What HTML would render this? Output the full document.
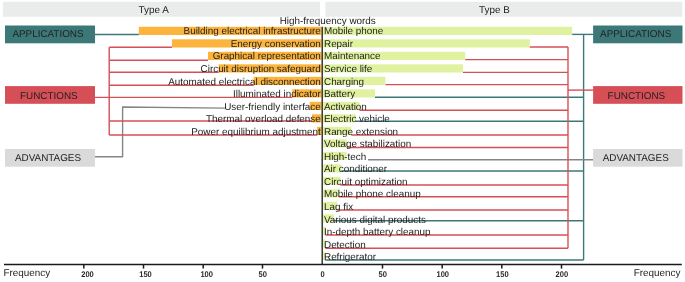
<!DOCTYPE html>
<html><head><meta charset="utf-8"><style>
html,body{margin:0;padding:0;background:#fff;overflow:hidden;}
svg{display:block;font-family:"Liberation Sans",sans-serif;text-rendering:geometricPrecision;}
svg{will-change:transform;}
</style></head><body>
<svg width="685" height="282" viewBox="0 0 685 282" font-family="Liberation Sans, sans-serif" font-size="9.9" fill="#222">
<rect width="685" height="282" fill="#fff"/>
<rect x="2.9" y="1.8" width="317.1" height="15" fill="#eaeceb"/>
<rect x="325.4" y="1.8" width="356.8" height="15" fill="#eaeceb"/>
<text x="138.6" y="12.9">Type A</text>
<text x="479" y="12.9">Type B</text>
<text x="279.7" y="23.7">High-frequency words</text>
<rect x="138.8" y="26.8" width="182.70" height="8.2" fill="#fdb43c"/>
<rect x="172" y="39.3" width="149.50" height="8.2" fill="#fdb43c"/>
<rect x="208" y="51.8" width="113.50" height="8.2" fill="#fdb43c"/>
<rect x="218.7" y="64.3" width="102.80" height="8.2" fill="#fdb43c"/>
<rect x="253.7" y="76.8" width="67.80" height="8.2" fill="#fdb43c"/>
<rect x="292.3" y="89.3" width="29.20" height="8.2" fill="#fdb43c"/>
<rect x="309.7" y="101.8" width="11.80" height="8.2" fill="#fdb43c"/>
<rect x="312" y="114.3" width="9.50" height="8.2" fill="#fdb43c"/>
<rect x="317.2" y="126.8" width="4.30" height="8.2" fill="#fdb43c"/>
<rect x="323.1" y="26.8" width="249.10" height="8.2" fill="#e0f2a0"/>
<rect x="323.1" y="39.3" width="206.70" height="8.2" fill="#e0f2a0"/>
<rect x="323.1" y="51.8" width="142.10" height="8.2" fill="#e0f2a0"/>
<rect x="323.1" y="64.3" width="139.90" height="8.2" fill="#e0f2a0"/>
<rect x="323.1" y="76.8" width="62.40" height="8.2" fill="#e0f2a0"/>
<rect x="323.1" y="89.3" width="51.90" height="8.2" fill="#e0f2a0"/>
<rect x="323.1" y="101.8" width="36.50" height="8.2" fill="#e0f2a0"/>
<rect x="323.1" y="114.3" width="32.70" height="8.2" fill="#e0f2a0"/>
<rect x="323.1" y="126.8" width="28.20" height="8.2" fill="#e0f2a0"/>
<rect x="323.1" y="139.3" width="23.60" height="8.2" fill="#e0f2a0"/>
<rect x="323.1" y="151.8" width="23.60" height="8.2" fill="#e0f2a0"/>
<rect x="323.1" y="164.3" width="18.20" height="8.2" fill="#e0f2a0"/>
<rect x="323.1" y="176.8" width="17.40" height="8.2" fill="#e0f2a0"/>
<rect x="323.1" y="189.3" width="16.10" height="8.2" fill="#e0f2a0"/>
<rect x="323.1" y="201.8" width="13.90" height="8.2" fill="#e0f2a0"/>
<rect x="323.1" y="214.3" width="10.50" height="8.2" fill="#e0f2a0"/>
<rect x="323.1" y="226.8" width="2.50" height="8.2" fill="#e0f2a0"/>
<rect x="323.1" y="239.3" width="2.30" height="8.2" fill="#e0f2a0"/>
<rect x="323.1" y="251.8" width="2.30" height="8.2" fill="#e0f2a0"/>
<g stroke-width="1.4"><polyline points="95,156.7 122.6,156.7 122.6,107.0 225,108.1" fill="none" stroke="#858585" stroke-linejoin="round"/><line x1="95" y1="34.5" x2="138.8" y2="34.5" stroke="#3c7877"/><line x1="109.2" y1="47.2" x2="172" y2="47.2" stroke="#d64f57"/><line x1="109.2" y1="60.3" x2="208" y2="60.3" stroke="#d64f57"/><line x1="109.2" y1="72.2" x2="218.7" y2="72.2" stroke="#d64f57"/><line x1="109.2" y1="85.2" x2="253.7" y2="85.2" stroke="#d64f57"/><line x1="95" y1="97.4" x2="292.3" y2="97.4" stroke="#d64f57"/><line x1="109.2" y1="121.0" x2="312" y2="121.0" stroke="#d64f57"/><line x1="109.2" y1="135.0" x2="317.2" y2="135.0" stroke="#d64f57"/><line x1="109.2" y1="47.2" x2="109.2" y2="135" stroke="#d64f57"/><line x1="583.6" y1="34.4" x2="583.6" y2="260.0" stroke="#3c7877"/><line x1="572.2" y1="34.4" x2="593" y2="34.4" stroke="#3c7877"/><line x1="529.8" y1="47.0" x2="568" y2="47.0" stroke="#d64f57"/><line x1="465.2" y1="59.6" x2="568" y2="59.6" stroke="#d64f57"/><line x1="463" y1="72.4" x2="568" y2="72.4" stroke="#d64f57"/><line x1="385.5" y1="84.6" x2="568" y2="84.6" stroke="#d64f57"/><line x1="375" y1="97.3" x2="583.6" y2="97.3" stroke="#3c7877"/><line x1="359.6" y1="110.3" x2="568" y2="110.3" stroke="#d64f57"/><line x1="355.8" y1="121.2" x2="583.6" y2="121.2" stroke="#3c7877"/><line x1="351.3" y1="135.0" x2="568" y2="135.0" stroke="#d64f57"/><line x1="346.7" y1="147.5" x2="568" y2="147.5" stroke="#d64f57"/><line x1="368" y1="159.8" x2="593" y2="159.8" stroke="#858585"/><line x1="341.3" y1="171.0" x2="583.6" y2="171.0" stroke="#3c7877"/><line x1="340.5" y1="185.0" x2="568" y2="185.0" stroke="#d64f57"/><line x1="339.2" y1="196.8" x2="568" y2="196.8" stroke="#d64f57"/><line x1="337.0" y1="210.0" x2="568" y2="210.0" stroke="#d64f57"/><line x1="333.6" y1="220.7" x2="583.6" y2="220.7" stroke="#3c7877"/><line x1="325.6" y1="235.0" x2="568" y2="235.0" stroke="#d64f57"/><line x1="325.4" y1="248.2" x2="568" y2="248.2" stroke="#d64f57"/><line x1="325.4" y1="260.0" x2="583.6" y2="260.0" stroke="#3c7877"/><line x1="568" y1="90.1" x2="593" y2="90.1" stroke="#d64f57"/><line x1="568" y1="47" x2="568" y2="248.2" stroke="#d64f57"/></g>
<text x="320.8" y="34.3" text-anchor="end">Building electrical infrastructure</text><text x="320.8" y="46.85" text-anchor="end">Energy conservation</text><text x="320.8" y="59.4" text-anchor="end">Graphical representation</text><text x="320.8" y="71.95" text-anchor="end">Circuit disruption safeguard</text><text x="320.8" y="84.5" text-anchor="end">Automated electrical disconnection</text><text x="320.8" y="97.05" text-anchor="end">Illuminated indicator</text><text x="320.8" y="109.6" text-anchor="end">User-friendly interface</text><text x="320.8" y="122.15" text-anchor="end">Thermal overload defense</text><text x="320.8" y="134.7" text-anchor="end">Power equilibrium adjustment</text><text x="324.0" y="34.3">Mobile phone</text><text x="324.0" y="46.85">Repair</text><text x="324.0" y="59.4">Maintenance</text><text x="324.0" y="71.95">Service life</text><text x="324.0" y="84.5">Charging</text><text x="324.0" y="97.05">Battery</text><text x="324.0" y="109.6">Activation</text><text x="324.0" y="122.15">Electric vehicle</text><text x="324.0" y="134.7">Range extension</text><text x="324.0" y="147.25">Voltage stabilization</text><text x="324.0" y="159.8">High-tech</text><text x="324.0" y="172.35">Air conditioner</text><text x="324.0" y="184.9">Circuit optimization</text><text x="324.0" y="197.45">Mobile phone cleanup</text><text x="324.0" y="210.0">Lag fix</text><text x="324.0" y="222.55">Various digital products</text><text x="324.0" y="235.1">In-depth battery cleanup</text><text x="324.0" y="247.65">Detection</text><text x="324.0" y="260.2">Refrigerator</text>
<rect x="5" y="25.5" width="90" height="17.8" fill="#3c7877"/><text x="12.4" y="36.8" >APPLICATIONS</text>
<rect x="5" y="86.1" width="90" height="17.7" fill="#d64f57"/><text x="20.0" y="98.8" >FUNCTIONS</text>
<rect x="5" y="149" width="90" height="17.7" fill="#dadada"/><text x="15.0" y="161.4" >ADVANTAGES</text>
<rect x="593.1" y="25.5" width="89.4" height="17.8" fill="#3c7877"/><text x="600.1" y="36.8" >APPLICATIONS</text>
<rect x="593.1" y="86.1" width="89.4" height="17.7" fill="#d64f57"/><text x="607.6" y="98.8" >FUNCTIONS</text>
<rect x="593.1" y="149" width="89.4" height="17.7" fill="#dadada"/><text x="602.7" y="161.4" >ADVANTAGES</text>
<g stroke="#1a1a1a" stroke-width="1.3"><line x1="4" y1="264.5" x2="681.8" y2="264.5"/><line x1="322.2" y1="26.7" x2="322.2" y2="264.5"/><line x1="83.8" y1="264.5" x2="83.8" y2="268.6" stroke-width="1.5"/><line x1="143.5" y1="264.5" x2="143.5" y2="268.6" stroke-width="1.5"/><line x1="203.2" y1="264.5" x2="203.2" y2="268.6" stroke-width="1.5"/><line x1="262.5" y1="264.5" x2="262.5" y2="268.6" stroke-width="1.5"/><line x1="382.5" y1="264.5" x2="382.5" y2="268.6" stroke-width="1.5"/><line x1="442.2" y1="264.5" x2="442.2" y2="268.6" stroke-width="1.5"/><line x1="501.8" y1="264.5" x2="501.8" y2="268.6" stroke-width="1.5"/><line x1="561.5" y1="264.5" x2="561.5" y2="268.6" stroke-width="1.5"/></g>
<g font-size="8.2" font-weight="bold" fill="#2a2a2a" text-anchor="middle"><text transform="translate(87.5,277) scale(0.92,1)">200</text><text transform="translate(145.5,277) scale(0.92,1)">150</text><text transform="translate(206.7,277) scale(0.92,1)">100</text><text transform="translate(262.7,277) scale(0.92,1)">50</text><text transform="translate(322.6,277) scale(0.92,1)">0</text><text transform="translate(382.8,277) scale(0.92,1)">50</text><text transform="translate(442.75,277) scale(0.92,1)">100</text><text transform="translate(502.3,277) scale(0.92,1)">150</text><text transform="translate(561.8,277) scale(0.92,1)">200</text></g>
<text x="3.5" y="276.4">Frequency</text>
<text x="633.8" y="276.4">Frequency</text>
</svg>
</body></html>
